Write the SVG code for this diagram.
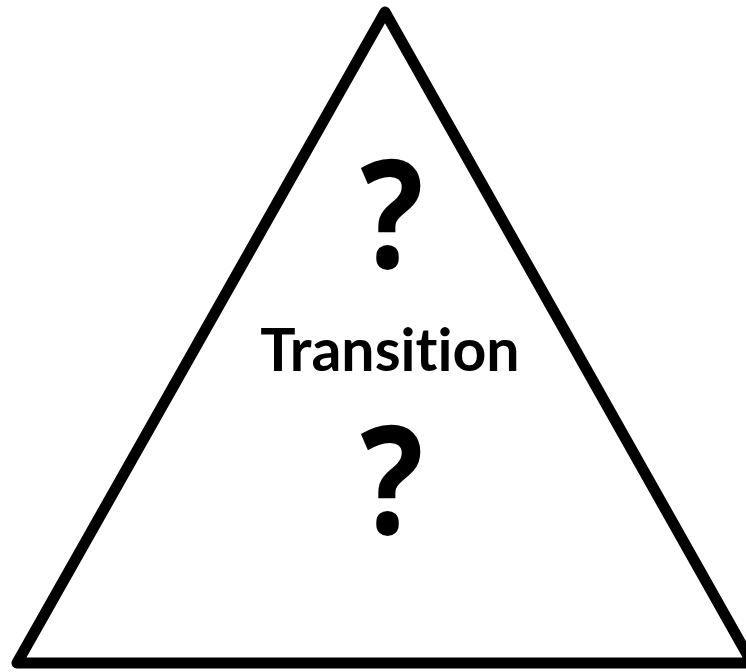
<svg xmlns="http://www.w3.org/2000/svg" width="746" height="672" viewBox="0 0 746 672">
<style>
.tri{fill:#fff;stroke:#000;stroke-width:11;stroke-linejoin:round}
.t{font-family:Lato,"Open Sans","Liberation Sans",sans-serif;font-weight:bold;fill:#000;text-anchor:middle;font-variant-ligatures:none}
.q{font-family:"Open Sans","Liberation Sans",sans-serif;font-weight:bold;fill:#000;text-anchor:middle;font-size:150px}
</style>
<rect width="746" height="672" fill="#fff"/>
<g id="triangle">
<polygon class="tri" points="385,12 17,663 752,663"/>
</g>
<g id="q1"><text class="q" transform="translate(392,268) scale(0.88,1)">?</text></g>
<g id="label"><text class="t" x="390" y="371" font-size="59">Transition</text></g>
<g id="q2"><text class="q" transform="translate(392,534) scale(0.88,1)">?</text></g>
</svg>
